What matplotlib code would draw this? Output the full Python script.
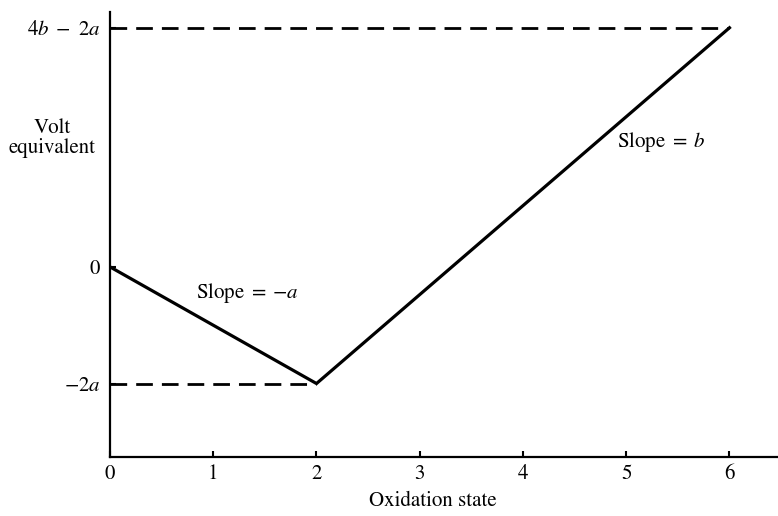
import matplotlib
matplotlib.use("Agg")
import matplotlib.pyplot as plt

plt.rcParams['font.family'] = ['STIXGeneral', 'DejaVu Serif']
plt.rcParams['mathtext.fontset'] = 'stix'

# data (a = 1, top level)
ox_state = [0, 2, 6]
volt_eq = [0, -2, 4.1]
x_ticks = [0, 1, 2, 3, 4, 5, 6]
y_ticks = [-2, 0, 4.1]
y_ticklabels = [r'$-2a$', '0', r'$4b\ -\ 2a$']

fig = plt.figure(figsize=(7.78, 5.16), dpi=100)
ax = fig.add_axes([0.1414, 0.1143, 0.8586, 0.8624])

lw_dash = 2.0
dash = (0, (12.0 / lw_dash, 6.5 / lw_dash))
# dashed guides to the corner points
ax.plot([0, ox_state[1]], [volt_eq[1], volt_eq[1]], color='black', lw=lw_dash, linestyle=dash)
ax.plot([0, ox_state[2]], [volt_eq[2], volt_eq[2]], color='black', lw=lw_dash, linestyle=dash)
ax.plot(ox_state, volt_eq, color='black', lw=2.3, solid_joinstyle='miter')

fs = 15
ax.text(0.83, -0.45, r'Slope $=\:-a$', fontsize=fs, va='center', ha='left')
ax.text(4.91, 2.14, r'Slope $=\:b$', fontsize=fs, va='center', ha='left')

ax.set_xlim(0, 6.47)
ax.set_ylim(-3.26, 4.37)
ax.spines['top'].set_visible(False)
ax.spines['right'].set_visible(False)
for s in ['left', 'bottom']:
    ax.spines[s].set_linewidth(1.6)

ax.set_xticks(x_ticks)
ax.set_xticklabels([str(t) for t in x_ticks])
ax.set_yticks(y_ticks)
ax.set_yticklabels(y_ticklabels)
ax.tick_params(direction='in', length=4, width=1.5, labelsize=fs, pad=5)
ax.tick_params(axis='y', pad=7)

ax.text(-0.56, 2.2, 'Volt\nequivalent', fontsize=fs, ha='center', va='center', linespacing=1.0)
ax.text(3.13, -4.01, 'Oxidation state', fontsize=fs, ha='center', va='center')

fig.savefig('out.png', dpi=100)
